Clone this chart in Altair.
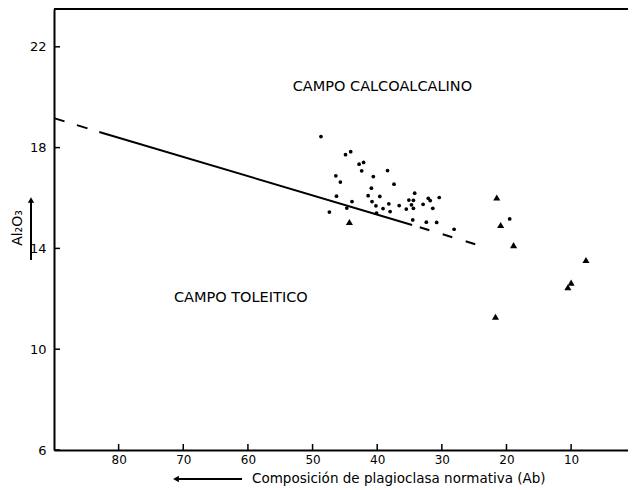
import altair as alt
import pandas as pd

# ---- data ----
dot_ab = [48.7, 44.9, 44.1, 42.8, 42.1, 42.4, 46.4, 45.7, 40.6, 38.4,
          37.4, 40.9, 46.3, 43.9, 41.4, 40.8, 40.2, 39.6, 39.1, 38.2,
          36.6, 34.2, 35.1, 34.7, 35.5, 34.4, 32.1, 31.8, 32.9, 31.4,
          30.4, 47.4, 44.7, 40.1, 34.5, 32.4, 30.8, 28.1, 19.5, 34.4, 38.0]
dot_al = [18.44, 17.72, 17.84, 17.34, 17.41, 17.08, 16.88, 16.63, 16.85, 17.09,
          16.55, 16.39, 16.07, 15.86, 16.09, 15.86, 15.69, 16.06, 15.58, 15.77,
          15.70, 16.19, 15.92, 15.73, 15.56, 15.91, 15.99, 15.90, 15.75, 15.59,
          16.02, 15.44, 15.60, 15.40, 15.13, 15.04, 15.03, 14.76, 15.17, 15.59, 15.46]

tri_ab = [44.3, 21.5, 20.9, 18.9, 21.7, 7.7, 10.0, 10.5]
tri_al = [15.05, 16.02, 14.93, 14.13, 11.29, 13.54, 12.64, 12.46]

# dividing line: dashed start, solid middle, dashed end
line_ab = [90.0, 83.0, 34.6, 24.0]
line_al = [19.17, 18.62, 14.93, 14.10]

x_ticks = [80, 70, 60, 50, 40, 30, 20, 10]
y_ticks = [6, 10, 14, 18, 22]

field_labels = ["CAMPO CALCOALCALINO", "CAMPO TOLEITICO"]
field_ab = [39.2, 61.1]
field_al = [20.4, 12.03]

x_title = "Composición de plagioclasa normativa (Ab)"
y_title = "Al₂O₃"

# ---- layout ----
W, H = 574, 441
FONT = "DejaVu Sans"
xs = alt.Scale(domain=[90, 1.2], nice=False, zero=False)
ys = alt.Scale(domain=[6, 23.5], nice=False, zero=False)

xax = alt.Axis(values=x_ticks, ticks=False, grid=False, title=None, labelPadding=4,
               labelFontSize=12, labelFont=FONT, labelColor="black",
               domainColor="black", domainWidth=2, labelFlush=False)
yax = alt.Axis(values=y_ticks, ticks=False, grid=False, title=None, labelPadding=8,
               labelFontSize=13, labelFont=FONT, labelColor="black",
               domainColor="black", domainWidth=2)

X = alt.X("ab:Q", scale=xs, axis=xax)
Y = alt.Y("al:Q", scale=ys, axis=yax)

dots_df = pd.DataFrame({"ab": dot_ab, "al": dot_al})
tri_df = pd.DataFrame({"ab": tri_ab, "al": tri_al})


def seg_df(i0, i1):
    return pd.DataFrame({"ab": [line_ab[i0], line_ab[i1]], "al": [line_al[i0], line_al[i1]], "o": [0, 1]})


xt_df = pd.DataFrame({"ab": x_ticks})
yt_df = pd.DataFrame({"al": y_ticks})
lab_df = pd.DataFrame({"ab": field_ab, "al": field_al, "t": field_labels})
one = pd.DataFrame({"k": [0]})

line_a = alt.Chart(seg_df(0, 1)).mark_line(color="black", strokeWidth=2, strokeDash=[11, 13]).encode(
    x=X, y=Y, order="o:Q")
line_b = alt.Chart(seg_df(1, 2)).mark_line(color="black", strokeWidth=2).encode(
    x=X, y=Y, order="o:Q")
line_c = alt.Chart(seg_df(2, 3)).mark_line(color="black", strokeWidth=2, strokeDash=[10, 14],
                                           strokeDashOffset=16).encode(x=X, y=Y, order="o:Q")

dots = alt.Chart(dots_df).mark_circle(size=14, color="black", opacity=1).encode(x=X, y=Y)
tris = alt.Chart(tri_df).mark_point(shape="triangle-up", filled=True, size=50, color="black", opacity=1).encode(x=X, y=Y)

xt = alt.Chart(xt_df).mark_rule(color="black", strokeWidth=1.5).encode(
    x=X, y=alt.value(H), y2=alt.value(H - 6))
yt = alt.Chart(yt_df).mark_rule(color="black", strokeWidth=1.5).encode(
    y=Y, x=alt.value(0), x2=alt.value(6))

top = alt.Chart(one).mark_rule(color="black", strokeWidth=2).encode(
    x=alt.value(0), x2=alt.value(W), y=alt.value(0))

labels = alt.Chart(lab_df).mark_text(font=FONT, fontSize=14.5, color="black", align="center").encode(
    x=X, y=Y, text="t:N")

xtitle = alt.Chart(one).mark_text(font=FONT, fontSize=13.5, color="black", align="left", baseline="middle").encode(
    x=alt.value(198), y=alt.value(470), text=alt.value(x_title))
xarrow = alt.Chart(one).mark_rule(color="black", strokeWidth=2).encode(
    x=alt.value(123), x2=alt.value(188), y=alt.value(470))
xhead = alt.Chart(one).mark_point(shape="triangle-left", filled=True, size=45, color="black", opacity=1).encode(
    x=alt.value(122), y=alt.value(470))

ytitle = alt.Chart(one).mark_text(font=FONT, fontSize=14, color="black", angle=270, align="center", baseline="middle").encode(
    x=alt.value(-36), y=alt.value(219), text=alt.value(y_title))
yarrow = alt.Chart(one).mark_rule(color="black", strokeWidth=2).encode(
    x=alt.value(-23), y=alt.value(192), y2=alt.value(251))
yhead = alt.Chart(one).mark_point(shape="triangle-up", filled=True, size=40, color="black", opacity=1).encode(
    x=alt.value(-23), y=alt.value(191))

chart = alt.layer(
    line_a, line_b, line_c, dots, tris, xt, yt, top, labels, xtitle, xarrow, xhead, ytitle, yarrow, yhead
).properties(
    width=W, height=H,
    autosize=alt.AutoSizeParams(type="none"),
    padding={"left": 46, "top": 1, "right": 0, "bottom": 38},
    background="white",
).configure_view(stroke=None)

chart.save("out.html", embed_options={"renderer": "svg", "actions": False})
